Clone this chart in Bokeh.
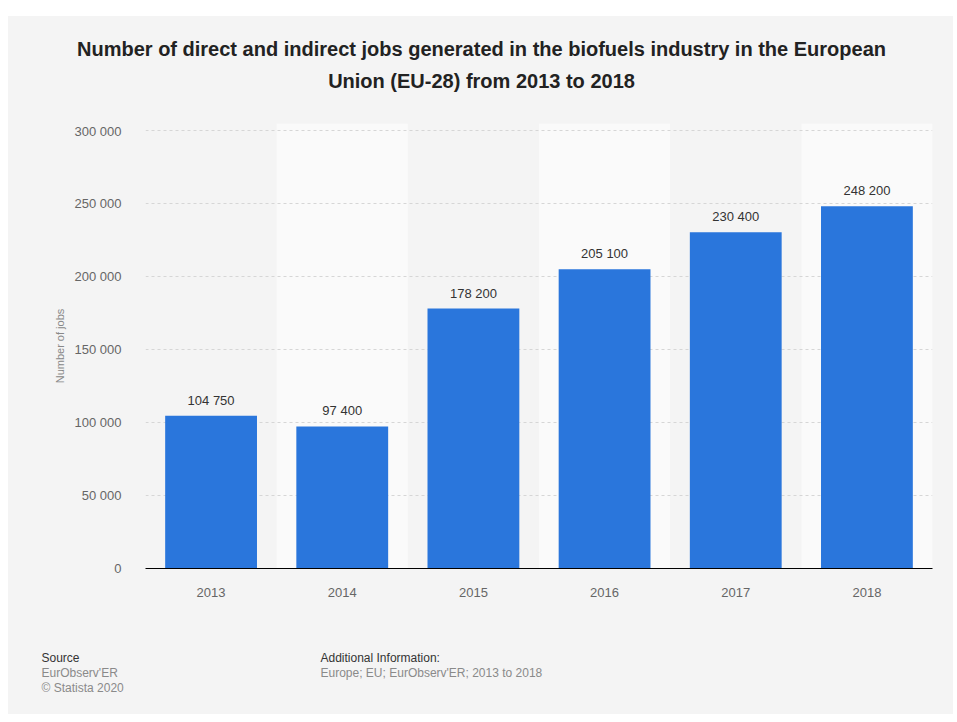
from bokeh.plotting import figure
from bokeh.models import (FactorRange, Range1d, FixedTicker, CustomJSTickFormatter,
                          Label, ColumnDataSource, Spacer)
from bokeh.layouts import column, row
from bokeh.embed import file_html
from bokeh.resources import INLINE

years = ["2013", "2014", "2015", "2016", "2017", "2018"]
jobs = [104750, 97400, 178200, 205100, 230400, 248200]
y_ticks = [0, 50000, 100000, 150000, 200000, 250000, 300000]

title_lines = ["Number of direct and indirect jobs generated in the biofuels industry in the European",
               "Union (EU-28) from 2013 to 2018"]
y_label = "Number of jobs"
footer_left = ["Source", "EurObserv'ER", "\u00a9 Statista 2020"]
footer_right = ["Additional Information:", "Europe; EU; EurObserv'ER; 2013 to 2018"]

FONT = "Liberation Sans"
BG = "#f4f4f4"
W = 945


def blank(h):
    f = figure(width=W, height=h, x_range=Range1d(0, W), y_range=Range1d(0, h),
               output_backend="svg", toolbar_location=None, min_border=0,
               frame_align=False)
    f.axis.visible = False
    f.grid.visible = False
    f.background_fill_color = BG
    f.border_fill_color = BG
    f.outline_line_color = None
    return f


# header with title
head = blank(107)
for i, t in enumerate(title_lines):
    head.add_layout(Label(x=473, y=75 - 32 * i, text=t, text_align="center",
                          text_baseline="middle", text_font=FONT, text_font_size="20px",
                          text_font_style="bold", text_color="#222222"))

# main chart
p = figure(width=W, height=485, x_range=FactorRange(*years, range_padding=0),
           y_range=Range1d(0, 305000), output_backend="svg", toolbar_location=None,
           min_border_left=137, min_border_right=21, min_border_top=0, min_border_bottom=40,
           frame_align=False)
p.background_fill_color = BG
p.border_fill_color = BG
p.outline_line_color = None

band_years = [y for i, y in enumerate(years) if i % 2 == 1]
p.vbar(x=band_years, top=[305000] * len(band_years), bottom=0, width=1.0,
       fill_color="#fafafa", line_color=None, level="image")

src = ColumnDataSource(dict(x=years, top=jobs,
                            lbl=[f"{v:,}".replace(",", " ") for v in jobs]))
p.vbar(x="x", top="top", width=0.7, source=src, fill_color="#2a76dc", line_color=None)
p.text(x="x", y="top", text="lbl", source=src, y_offset=-8,
       text_align="center", text_baseline="bottom", text_font_size="13px",
       text_color="#333333", text_font={"value": FONT})

p.yaxis.ticker = FixedTicker(ticks=y_ticks)
p.yaxis.formatter = CustomJSTickFormatter(
    code='return tick.toString().replace(/\\B(?=(\\d{3})+(?!\\d))/g, " ");')
p.yaxis.axis_line_color = None
p.yaxis.major_tick_line_color = None
p.yaxis.minor_tick_line_color = None
p.yaxis.major_label_standoff = 18
p.yaxis.major_label_text_font_size = "13px"
p.yaxis.major_label_text_color = "#666666"
p.yaxis.major_label_text_font = FONT
p.yaxis.axis_label = y_label
p.yaxis.axis_label_text_font = FONT
p.yaxis.axis_label_text_font_size = "11px"
p.yaxis.axis_label_text_font_style = "normal"
p.yaxis.axis_label_text_color = "#888888"
p.yaxis.axis_label_standoff = 6

p.xaxis.axis_line_color = "#000000"
p.xaxis.axis_line_width = 1.2
p.xaxis.major_tick_line_color = None
p.xaxis.minor_tick_line_color = None
p.xaxis.major_label_standoff = 13
p.xaxis.major_label_text_font_size = "13px"
p.xaxis.major_label_text_color = "#666666"
p.xaxis.major_label_text_font = FONT

p.xgrid.grid_line_color = None
p.ygrid.ticker = FixedTicker(ticks=y_ticks)
p.ygrid.grid_line_color = "#d6d6d6"
p.ygrid.grid_line_dash = "3 3"
p.ygrid.grid_line_width = 1

# footer
foot = blank(106)
for i, t in enumerate(footer_left):
    foot.add_layout(Label(x=33, y=57 - 15 * i, text=t, text_align="left",
                          text_baseline="middle", text_font=FONT, text_font_size="12px",
                          text_color="#333333" if i == 0 else "#8a8a8a"))
for i, t in enumerate(footer_right):
    foot.add_layout(Label(x=312, y=57 - 15 * i, text=t, text_align="left",
                          text_baseline="middle", text_font=FONT, text_font_size="12px",
                          text_color="#333333" if i == 0 else "#8a8a8a"))

inner = column(head, p, foot, spacing=0, styles={"background-color": BG})
layout = column(Spacer(height=16, width=W + 8),
                row(Spacer(width=8, height=698), inner, spacing=0),
                spacing=0)
open("out.html", "w").write(file_html(layout, INLINE))
